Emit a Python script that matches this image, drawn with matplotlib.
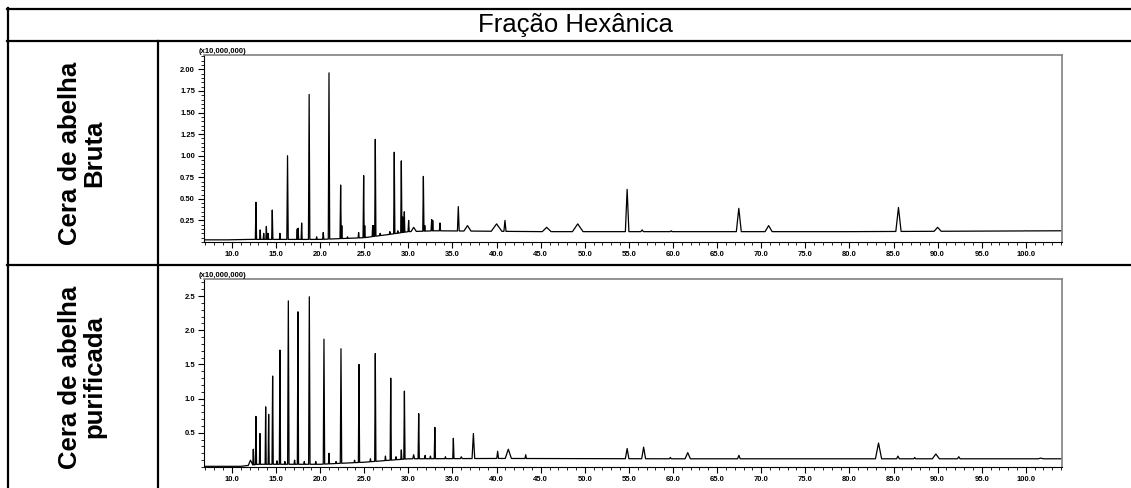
import numpy as np
import matplotlib
matplotlib.use("Agg")
import matplotlib.pyplot as plt
from matplotlib.lines import Line2D
from matplotlib.ticker import MultipleLocator, FormatStrFormatter, FixedLocator

plt.rcParams['font.family'] = ['Liberation Sans', 'DejaVu Sans']

# Cera de abelha bruta - peaks: retention time (min), apex (x10^7), half width (min)
bruta_rt = [12.72, 13.2, 13.6, 13.9, 14.1, 14.57, 15.44, 16.3, 17.4, 17.5, 17.9,
            18.75, 19.6, 20.35, 21.0, 22.32, 22.45, 23.1, 24.36, 24.93, 25.05,
            25.95, 26.06, 26.25, 26.8, 27.9, 28.4, 28.8, 29.2, 29.36, 29.54,
            30.03, 30.6, 31.7, 31.86, 32.64, 32.76, 33.58, 35.66, 36.7, 40.0,
            40.95, 45.68, 49.2, 54.8, 56.5, 59.8, 67.46, 70.84, 85.56, 90.0, 99.9]
bruta_h = [0.46, 0.14, 0.10, 0.18, 0.10, 0.37, 0.10, 1.00, 0.15, 0.16, 0.22,
           1.71, 0.06, 0.11, 1.96, 0.66, 0.19, 0.06, 0.11, 0.77, 0.19,
           0.19, 0.19, 1.19, 0.10, 0.12, 1.04, 0.13, 0.94, 0.29, 0.35,
           0.25, 0.17, 0.76, 0.19, 0.26, 0.25, 0.22, 0.41, 0.19, 0.21,
           0.25, 0.17, 0.21, 0.61, 0.14, 0.13, 0.39, 0.19, 0.40, 0.17, 0.13]
bruta_w = [0.07, 0.06, 0.06, 0.06, 0.06, 0.07, 0.06, 0.08, 0.06, 0.06, 0.06,
           0.08, 0.06, 0.07, 0.08, 0.07, 0.06, 0.06, 0.06, 0.07, 0.06,
           0.06, 0.06, 0.07, 0.06, 0.06, 0.07, 0.06, 0.07, 0.06, 0.06,
           0.07, 0.3, 0.07, 0.06, 0.07, 0.06, 0.07, 0.1, 0.4, 0.6,
           0.12, 0.5, 0.6, 0.2, 0.15, 0.1, 0.28, 0.4, 0.3, 0.4, 0.1]
bruta_base_t = [6.9, 9.5, 12.0, 20.0, 25.0, 28.0, 30.0, 33.0, 45.0, 60.0, 80.0, 104.0]
bruta_base_v = [0.025, 0.025, 0.03, 0.03, 0.05, 0.09, 0.12, 0.13, 0.12, 0.12, 0.12, 0.13]

# Cera de abelha purificada
purif_rt = [12.1, 12.42, 12.72, 13.17, 13.82, 14.16, 14.61, 15.1, 15.44, 16.0,
            16.39, 17.1, 17.48, 18.2, 18.77, 19.5, 20.43, 21.0, 21.8, 22.36,
            23.9, 24.4, 25.7, 26.25, 27.4, 28.0, 28.6, 29.2, 29.55, 30.6,
            31.17, 31.9, 32.5, 33.0, 34.2, 35.1, 36.0, 37.37, 40.12, 41.33,
            43.3, 54.8, 56.67, 59.7, 61.67, 67.47, 83.3, 85.5, 87.4, 89.8, 92.4, 101.7]
purif_h = [0.10, 0.26, 0.74, 0.49, 0.88, 0.77, 1.33, 0.09, 1.71, 0.08,
           2.43, 0.10, 2.27, 0.08, 2.49, 0.08, 1.87, 0.20, 0.08, 1.73,
           0.10, 1.50, 0.12, 1.66, 0.16, 1.30, 0.15, 0.25, 1.11, 0.18,
           0.78, 0.17, 0.16, 0.58, 0.15, 0.42, 0.15, 0.49, 0.23, 0.26,
           0.18, 0.27, 0.29, 0.14, 0.21, 0.17, 0.35, 0.16, 0.14, 0.19, 0.15, 0.13]
purif_w = [0.25, 0.06, 0.07, 0.06, 0.06, 0.06, 0.07, 0.06, 0.07, 0.06,
           0.08, 0.06, 0.07, 0.06, 0.08, 0.06, 0.08, 0.06, 0.06, 0.08,
           0.06, 0.07, 0.06, 0.07, 0.06, 0.07, 0.06, 0.06, 0.07, 0.1,
           0.07, 0.06, 0.06, 0.07, 0.06, 0.07, 0.1, 0.15, 0.1, 0.35,
           0.08, 0.2, 0.22, 0.1, 0.3, 0.15, 0.35, 0.15, 0.1, 0.4, 0.15, 0.3]
purif_base_t = [6.9, 11.0, 13.0, 20.0, 25.0, 30.0, 40.0, 60.0, 104.0]
purif_base_v = [0.01, 0.01, 0.04, 0.04, 0.07, 0.12, 0.125, 0.12, 0.12]

x_ticks = [10, 15, 20, 25, 30, 35, 40, 45, 50, 55, 60, 65, 70, 75, 80, 85, 90, 95, 100]


def trace(rt, h, w, bt, bv):
    # baseline anchors outside the peaks, plus start/apex/end of each peak
    pts = []
    for t, v in zip(bt, bv):
        if all(abs(t - r) > hw for r, hw in zip(rt, w)):
            pts.append((t, v))
    for r, a, hw in zip(rt, h, w):
        pts.append((r - hw, np.interp(r - hw, bt, bv)))
        pts.append((r, a))
        pts.append((r + hw, np.interp(r + hw, bt, bv)))
    pts.sort()
    return [p[0] for p in pts], [p[1] for p in pts]


W, H = 1131, 488
fig = plt.figure(figsize=(W / 100, H / 100), dpi=100)


def px(x, y):
    return x / W, 1 - y / H


def hline(y, x0, x1):
    (a, b), (c, d) = px(x0, y), px(x1, y)
    fig.add_artist(Line2D([a, c], [b, d], color='black', lw=1.6))


def vline(x, y0, y1):
    (a, b), (c, d) = px(x, y0), px(x, y1)
    fig.add_artist(Line2D([a, c], [b, d], color='black', lw=1.6))


# table grid
hline(8.5, 7, 1131)
hline(41, 7, 1131)
hline(265, 7, 1131)
vline(7.5, 8, 488)
vline(158, 41, 488)

fig.text(*px(575, 25), 'Fração Hexânica', fontsize=18.5, ha='center', va='center')
fig.text(*px(82, 153), 'Cera de abelha\nBruta', fontsize=18.5, fontweight='bold',
         rotation=90, ha='center', va='center', linespacing=1.0, multialignment='center')
fig.text(*px(82, 377), 'Cera de abelha\npurificada', fontsize=18.5, fontweight='bold',
         rotation=90, ha='center', va='center', linespacing=1.0, multialignment='center')

panels = [
    (bruta_rt, bruta_h, bruta_w, bruta_base_t, bruta_base_v, 55, 242, 2.167, 0.25, 0.05, '%.2f'),
    (purif_rt, purif_h, purif_w, purif_base_t, purif_base_v, 279, 467, 2.75, 0.5, 0.1, '%.1f'),
]

for rt, h, w, bt, bv, top, bot, ymax, ystep, yminor, fmt in panels:
    l, b = px(204, bot)
    ax = fig.add_axes([l, b, (1062 - 204) / W, (bot - top) / H])
    xs, ys = trace(rt, h, w, bt, bv)
    ax.plot(xs, ys, color='black', lw=0.9)
    ax.set_xlim(6.83, 104.1)
    ax.set_ylim(0, ymax)
    ax.xaxis.set_major_locator(FixedLocator(x_ticks))
    ax.xaxis.set_minor_locator(MultipleLocator(1))
    ax.xaxis.set_major_formatter(FormatStrFormatter('%.1f'))
    yt = np.arange(ystep, ymax, ystep)
    ax.yaxis.set_major_locator(FixedLocator(yt))
    ax.yaxis.set_minor_locator(MultipleLocator(yminor))
    ax.yaxis.set_major_formatter(FormatStrFormatter(fmt))
    ax.tick_params(which='major', direction='out', length=4, width=0.8, pad=2.5,
                   labelsize=5.5)
    ax.tick_params(which='minor', direction='out', length=2, width=0.6)
    for lab in ax.get_xticklabels() + ax.get_yticklabels():
        lab.set_fontweight('bold')
    for s in ('top', 'right'):
        ax.spines[s].set_color('#808080')
        ax.spines[s].set_linewidth(1.2)
    for s in ('bottom', 'left'):
        ax.spines[s].set_linewidth(0.8)
    ax.text(-0.006, 1.0, '(x10,000,000)', transform=ax.transAxes, fontsize=5.5,
            fontweight='bold', ha='left', va='bottom')

fig.savefig('out.png', dpi=100)
